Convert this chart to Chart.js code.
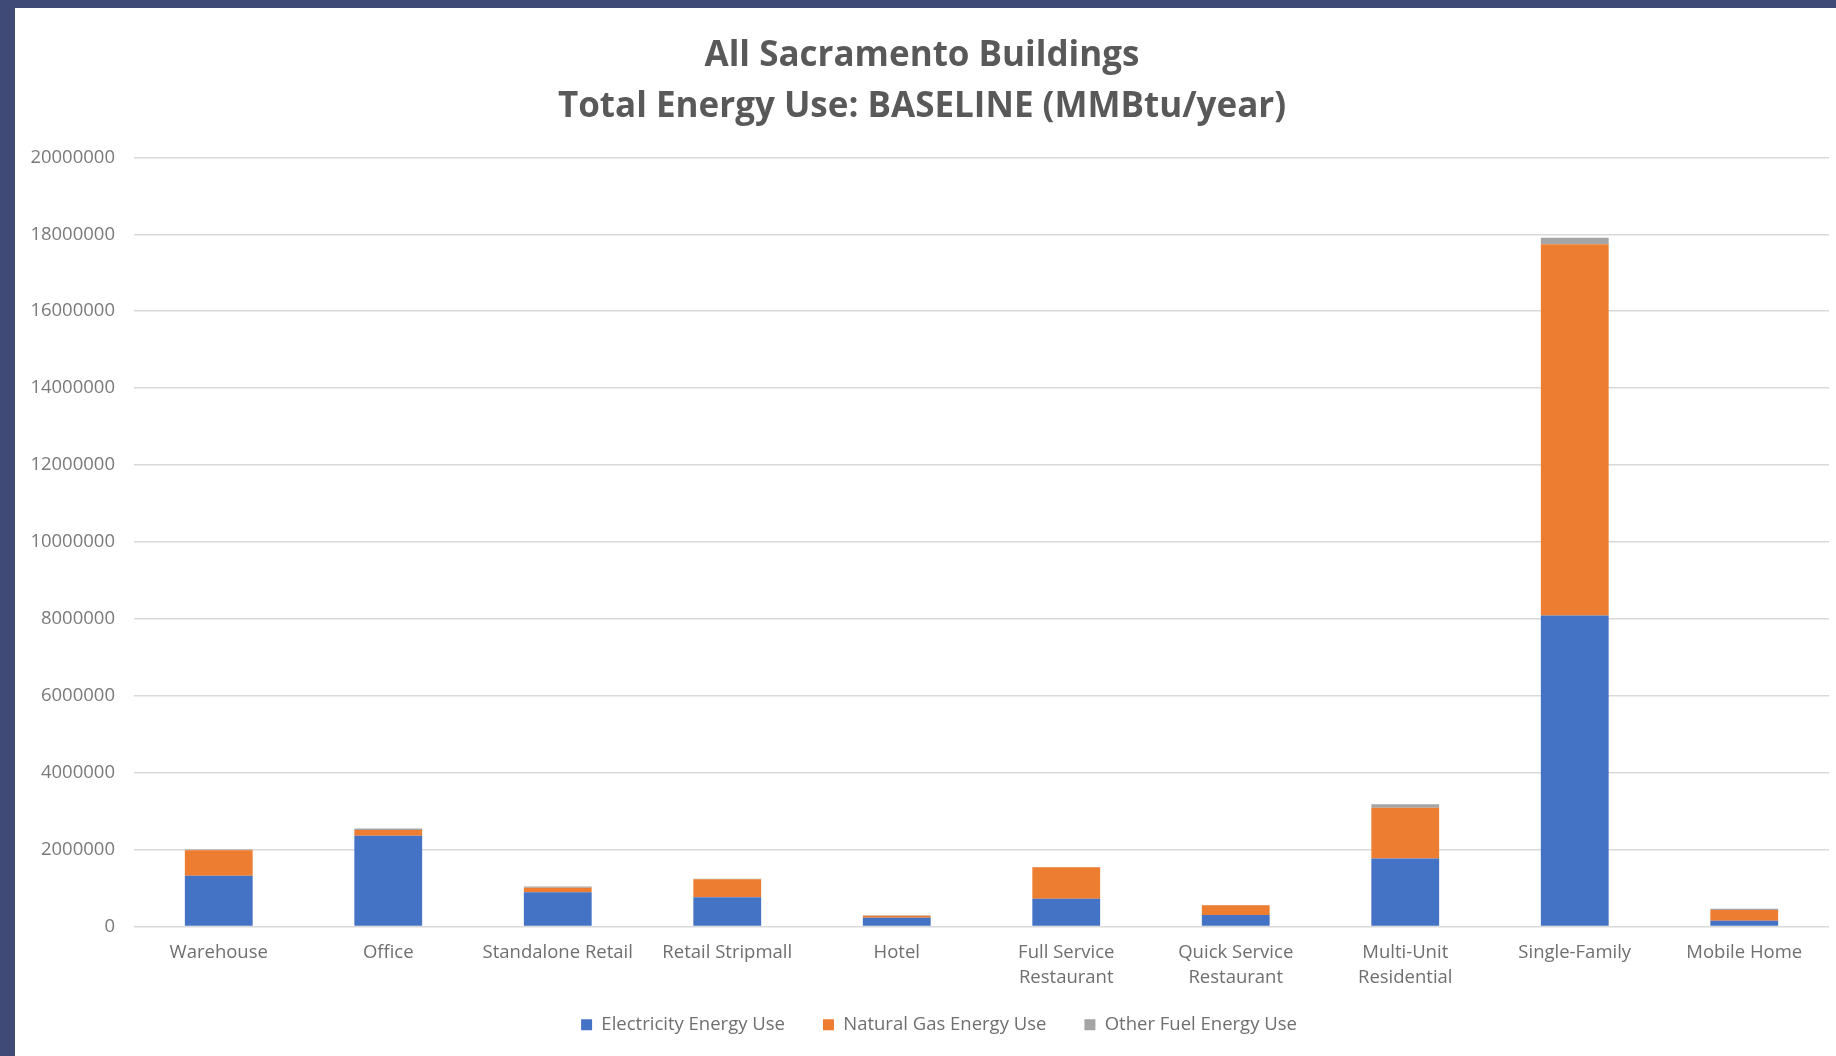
<!DOCTYPE html>
<html>
<head>
<meta charset="utf-8">
<script src="https://cdn.jsdelivr.net/npm/chart.js@4.4.1/dist/chart.umd.min.js"></script>
<style>
  html, body { margin: 0; padding: 0; background: #ffffff; }
  #frame {
    position: absolute; left: 0; top: 0; width: 1836px; height: 1056px;
    box-sizing: border-box; border-left: 15px solid #3f4a76; border-top: 8px solid #3f4a76;
    background: #ffffff;
  }
  #wrap { position: absolute; left: 0; top: 0; width: 1821px; height: 1048px; }
</style>
</head>
<body>
<div id="frame"><div id="wrap"><canvas id="c" width="1821" height="1048"></canvas></div></div>
<script>
const titleLines = ["All Sacramento Buildings", "Total Energy Use: BASELINE (MMBtu/year)"];
const categories = [
  "Warehouse", "Office", "Standalone Retail", "Retail Stripmall", "Hotel",
  ["Full Service", "Restaurant"], ["Quick Service", "Restaurant"],
  ["Multi-Unit", "Residential"], "Single-Family", "Mobile Home"
];
const seriesNames = ["Electricity Energy Use", "Natural Gas Energy Use", "Other Fuel Energy Use"];
const electricity = [1320000, 2360000, 890000, 760000, 230000, 720000, 300000, 1770000, 8090000, 150000];
const naturalGas  = [660000, 150000, 120000, 470000, 50000, 820000, 250000, 1320000, 9650000, 280000];
const otherFuel   = [20000, 40000, 30000, 10000, 10000, 10000, 10000, 90000, 170000, 30000];
const yMax = 20000000;
const yStep = 2000000;
const colors = ["#4472c4", "#ed7d31", "#a5a5a5"];

const FONT = "'Open Sans', sans-serif";

// nudges the legend box (Excel places it slightly differently from Chart.js)
const legendNudge = {
  id: "legendNudge",
  afterLayout(chart) {
    const lg = chart.legend;
    if (!lg) return;
    lg.top -= 12; lg.bottom -= 12;
    lg.left += 17; lg.right += 17;
  }
};

new Chart(document.getElementById("c"), {
  type: "bar",
  data: {
    labels: categories,
    datasets: [
      { label: seriesNames[0], data: electricity, backgroundColor: colors[0] },
      { label: seriesNames[1], data: naturalGas, backgroundColor: colors[1] },
      { label: seriesNames[2], data: otherFuel, backgroundColor: colors[2] }
    ]
  },
  plugins: [legendNudge],
  options: {
    responsive: false,
    animation: false,
    layout: { padding: { left: 0, right: 7, top: 0, bottom: 0 } },
    datasets: { bar: { categoryPercentage: 1.0, barPercentage: 0.4, borderWidth: 0 } },
    plugins: {
      title: {
        display: true,
        text: titleLines,
        color: "#595959",
        font: { family: FONT, size: 35, weight: "bold", lineHeight: 1.463 },
        padding: { top: 22, bottom: 25 }
      },
      legend: {
        position: "bottom",
        labels: {
          color: "#6f6f6f",
          font: { family: FONT, size: 18.5 },
          boxWidth: 11, boxHeight: 11,
          padding: 38
        }
      },
      tooltip: { enabled: false }
    },
    scales: {
      x: {
        stacked: true,
        grid: { display: false, drawTicks: false },
        border: { display: false },
        afterFit: (s) => { s.height = 63; },
        ticks: {
          color: "#6f6f6f",
          font: { family: FONT, size: 18.5, lineHeight: 1.33 },
          padding: 14,
          maxRotation: 0, autoSkip: false
        }
      },
      y: {
        stacked: true,
        min: 0, max: yMax,
        grid: { color: "#d9d9d9", lineWidth: 1.5, drawTicks: false },
        border: { display: false },
        afterFit: (s) => { s.width = 119; },
        ticks: {
          stepSize: yStep,
          color: "#7a7a7a",
          font: { family: FONT, size: 18.5 },
          padding: 19,
          callback: (v) => String(v)
        }
      }
    }
  }
});
</script>
</body>
</html>
